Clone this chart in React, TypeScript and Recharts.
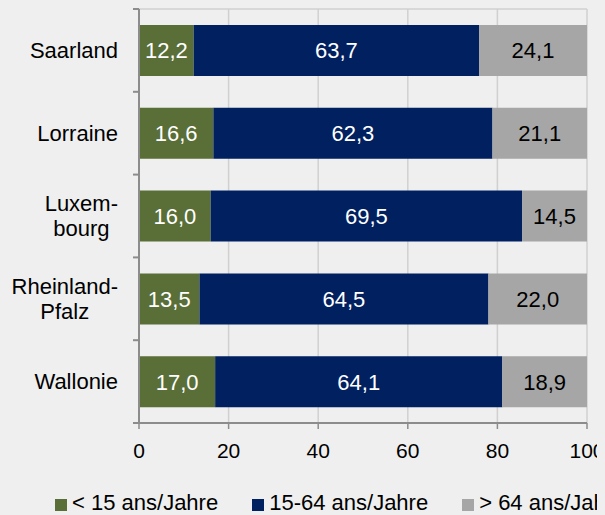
import { BarChart, Bar, XAxis, YAxis, CartesianGrid, Legend, LabelList } from 'recharts';

const REGIONS = ['Saarland', 'Lorraine', 'Luxem-\nbourg', 'Rheinland-\nPfalz', 'Wallonie'];
const UNDER_15 = [12.2, 16.6, 16.0, 13.5, 17.0];
const AGE_15_64 = [63.7, 62.3, 69.5, 64.5, 64.1];
const OVER_64 = [24.1, 21.1, 14.5, 22.0, 18.9];
const X_TICKS = [0, 20, 40, 60, 80, 100];

const SERIES = [
  { key: 'young', name: '< 15 ans/Jahre', color: '#5a6e37', text: '#ffffff' },
  { key: 'adult', name: '15-64 ans/Jahre', color: '#002060', text: '#ffffff' },
  { key: 'old', name: '> 64 ans/Jahre', color: '#a6a6a6', text: '#000000' },
];

const data = REGIONS.map((name, i) => ({
  name,
  young: UNDER_15[i],
  adult: AGE_15_64[i],
  old: OVER_64[i],
}));

const FONT = "'Liberation Sans', Arial, sans-serif";
const AXIS = '#8c8c8c';

let ctx: CanvasRenderingContext2D | null = null;
function textWidth(s: string) {
  if (!ctx) ctx = document.createElement('canvas').getContext('2d');
  if (!ctx) return s.length * 11;
  ctx.font = `22px ${FONT}`;
  return ctx.measureText(s).width;
}

const fmt = (v: any) => Number(v).toFixed(1).replace('.', ',');

function RegionTick(props: any) {
  const { x, y, payload, index } = props;
  const half = payload.offset || 41.4;
  const axisX = x + 21;
  const lines = String(payload.value).split('\n');
  const multi = lines.length > 1;
  const widest = Math.max(...lines.map(textWidth));
  const tx = multi ? x - widest / 2 : x;
  const lh = 25;
  return (
    <g>
      <line x1={axisX - 6} x2={axisX} y1={y - half} y2={y - half} stroke={AXIS} strokeWidth={2} />
      {index === REGIONS.length - 1 && (
        <line x1={axisX - 6} x2={axisX} y1={y + half} y2={y + half} stroke={AXIS} strokeWidth={2} />
      )}
      <text x={tx} y={y} textAnchor={multi ? 'middle' : 'end'} fontSize={22} fontFamily={FONT} fill="#000">
        {lines.map((l, i) => (
          <tspan key={i} x={tx} dy={i === 0 ? -((lines.length - 1) / 2) * lh + 7.8 : lh}>
            {l}
          </tspan>
        ))}
      </text>
    </g>
  );
}

function AgeLegend() {
  return (
    <div
      style={{
        height: 52,
        paddingTop: 28,
        paddingLeft: 47,
        boxSizing: 'border-box',
        display: 'flex',
        gap: 34,
        whiteSpace: 'nowrap',
        fontFamily: FONT,
        fontSize: 22,
        lineHeight: '22px',
        color: '#000',
      }}
    >
      {SERIES.map((s) => (
        <span key={s.key} style={{ display: 'flex', alignItems: 'center' }}>
          <span style={{ width: 12, height: 12, background: s.color, marginRight: 5, marginTop: 3 }} />
          {s.name}
        </span>
      ))}
    </div>
  );
}

export default function App() {
  return (
    <div style={{ width: 597, height: 507, overflow: 'hidden' }}>
      <style>{'body{background:#eeefee}'}</style>
      <BarChart
        width={597}
        height={507}
        data={data}
        layout="vertical"
        margin={{ top: 1, right: 18, left: 0, bottom: 0 }}
      >
        <CartesianGrid
          stroke="#d0d0d0"
          strokeWidth={1.5}
          horizontalCoordinatesGenerator={(p: any) => [p.offset.top]}
        />
        <XAxis
          type="number"
          domain={[0, 100]}
          ticks={X_TICKS}
          height={40}
          tickSize={6}
          tickMargin={14}
          axisLine={{ stroke: AXIS, strokeWidth: 2 }}
          tickLine={{ stroke: AXIS, strokeWidth: 1.5 }}
          tick={{ fontSize: 21, fill: '#000', fontFamily: FONT }}
        />
        <YAxis
          type="category"
          dataKey="name"
          width={131}
          tickSize={0}
          tickMargin={21}
          tickLine={false}
          axisLine={{ stroke: AXIS, strokeWidth: 2 }}
          tick={<RegionTick />}
          interval={0}
        />
        <Legend verticalAlign="bottom" content={<AgeLegend />} wrapperStyle={{ left: 0, bottom: 0, width: 597 }} />
        {SERIES.map((s) => (
          <Bar key={s.key} dataKey={s.key} name={s.name} stackId="a" fill={s.color} barSize={51} isAnimationActive={false}>
            <LabelList dataKey={s.key} position="center" formatter={fmt} fill={s.text} fontSize={22} fontFamily={FONT} />
          </Bar>
        ))}
      </BarChart>
    </div>
  );
}
